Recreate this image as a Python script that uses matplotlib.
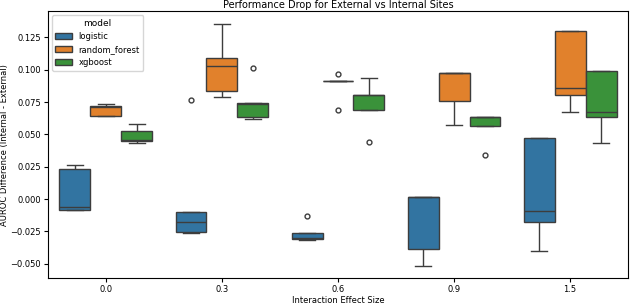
import matplotlib
matplotlib.use('Agg')
import matplotlib.pyplot as plt
import seaborn as sns
import pandas as pd

# Dados
effect_sizes = ['0.0', '0.3', '0.6', '0.9', '1.5']
models = ['logistic', 'random_forest', 'xgboost']

logistic = [
    [-0.0087, -0.0087, -0.0059, 0.0230, 0.0266],
    [-0.0258, -0.0251, -0.0178, -0.0097, 0.0765],
    [-0.0312, -0.0310, -0.0302, -0.0262, -0.0127],
    [-0.0520, -0.0388, 0.0017, 0.0017, 0.0017],
    [-0.0401, -0.0178, -0.0094, 0.0473, 0.0473],
]
random_forest = [
    [0.0641, 0.0641, 0.0715, 0.0722, 0.0737],
    [0.0790, 0.0833, 0.1028, 0.1087, 0.1355],
    [0.0692, 0.0912, 0.0912, 0.0912, 0.0965],
    [0.0570, 0.0760, 0.0973, 0.0973, 0.0973],
    [0.0676, 0.0806, 0.0856, 0.1302, 0.1302],
]
xgboost = [
    [0.0433, 0.0453, 0.0460, 0.0527, 0.0578],
    [0.0620, 0.0631, 0.0735, 0.0745, 0.1011],
    [0.0443, 0.0686, 0.0808, 0.0808, 0.0939],
    [0.0344, 0.0567, 0.0635, 0.0635, 0.0635],
    [0.0430, 0.0638, 0.0676, 0.0990, 0.0990],
]

rows = []
for name, series in zip(models, [logistic, random_forest, xgboost]):
    for es, vals in zip(effect_sizes, series):
        for v in vals:
            rows.append({'effect': es, 'model': name, 'diff': v})
df = pd.DataFrame(rows)

plt.rcParams['font.size'] = 6.5
fig = plt.figure(figsize=(6.3, 3.04), dpi=100)
ax = fig.add_axes([0.076, 0.084, 0.921, 0.879])

sns.boxplot(data=df, x='effect', y='diff', hue='model', order=effect_sizes,
            hue_order=models, ax=ax, linewidth=1, fliersize=3.5)

ax.set_ylim(-0.0613, 0.1452)
ax.set_yticks([-0.05, -0.025, 0, 0.025, 0.05, 0.075, 0.1, 0.125])
ax.set_yticklabels(['\u22120.050', '\u22120.025', '0.000', '0.025', '0.050',
                    '0.075', '0.100', '0.125'])
ax.set_title('Performance Drop for External vs Internal Sites', fontsize=7, pad=2)
ax.set_xlabel('Interaction Effect Size', fontsize=6, labelpad=1)
ax.set_ylabel('AUROC Difference (Internal - External)', fontsize=6, labelpad=1)
ax.tick_params(labelsize=6, length=3, pad=2)
leg = ax.legend(title='model', loc='upper left', fontsize=6, title_fontsize=6.5)

fig.savefig('out.png', dpi=100)
